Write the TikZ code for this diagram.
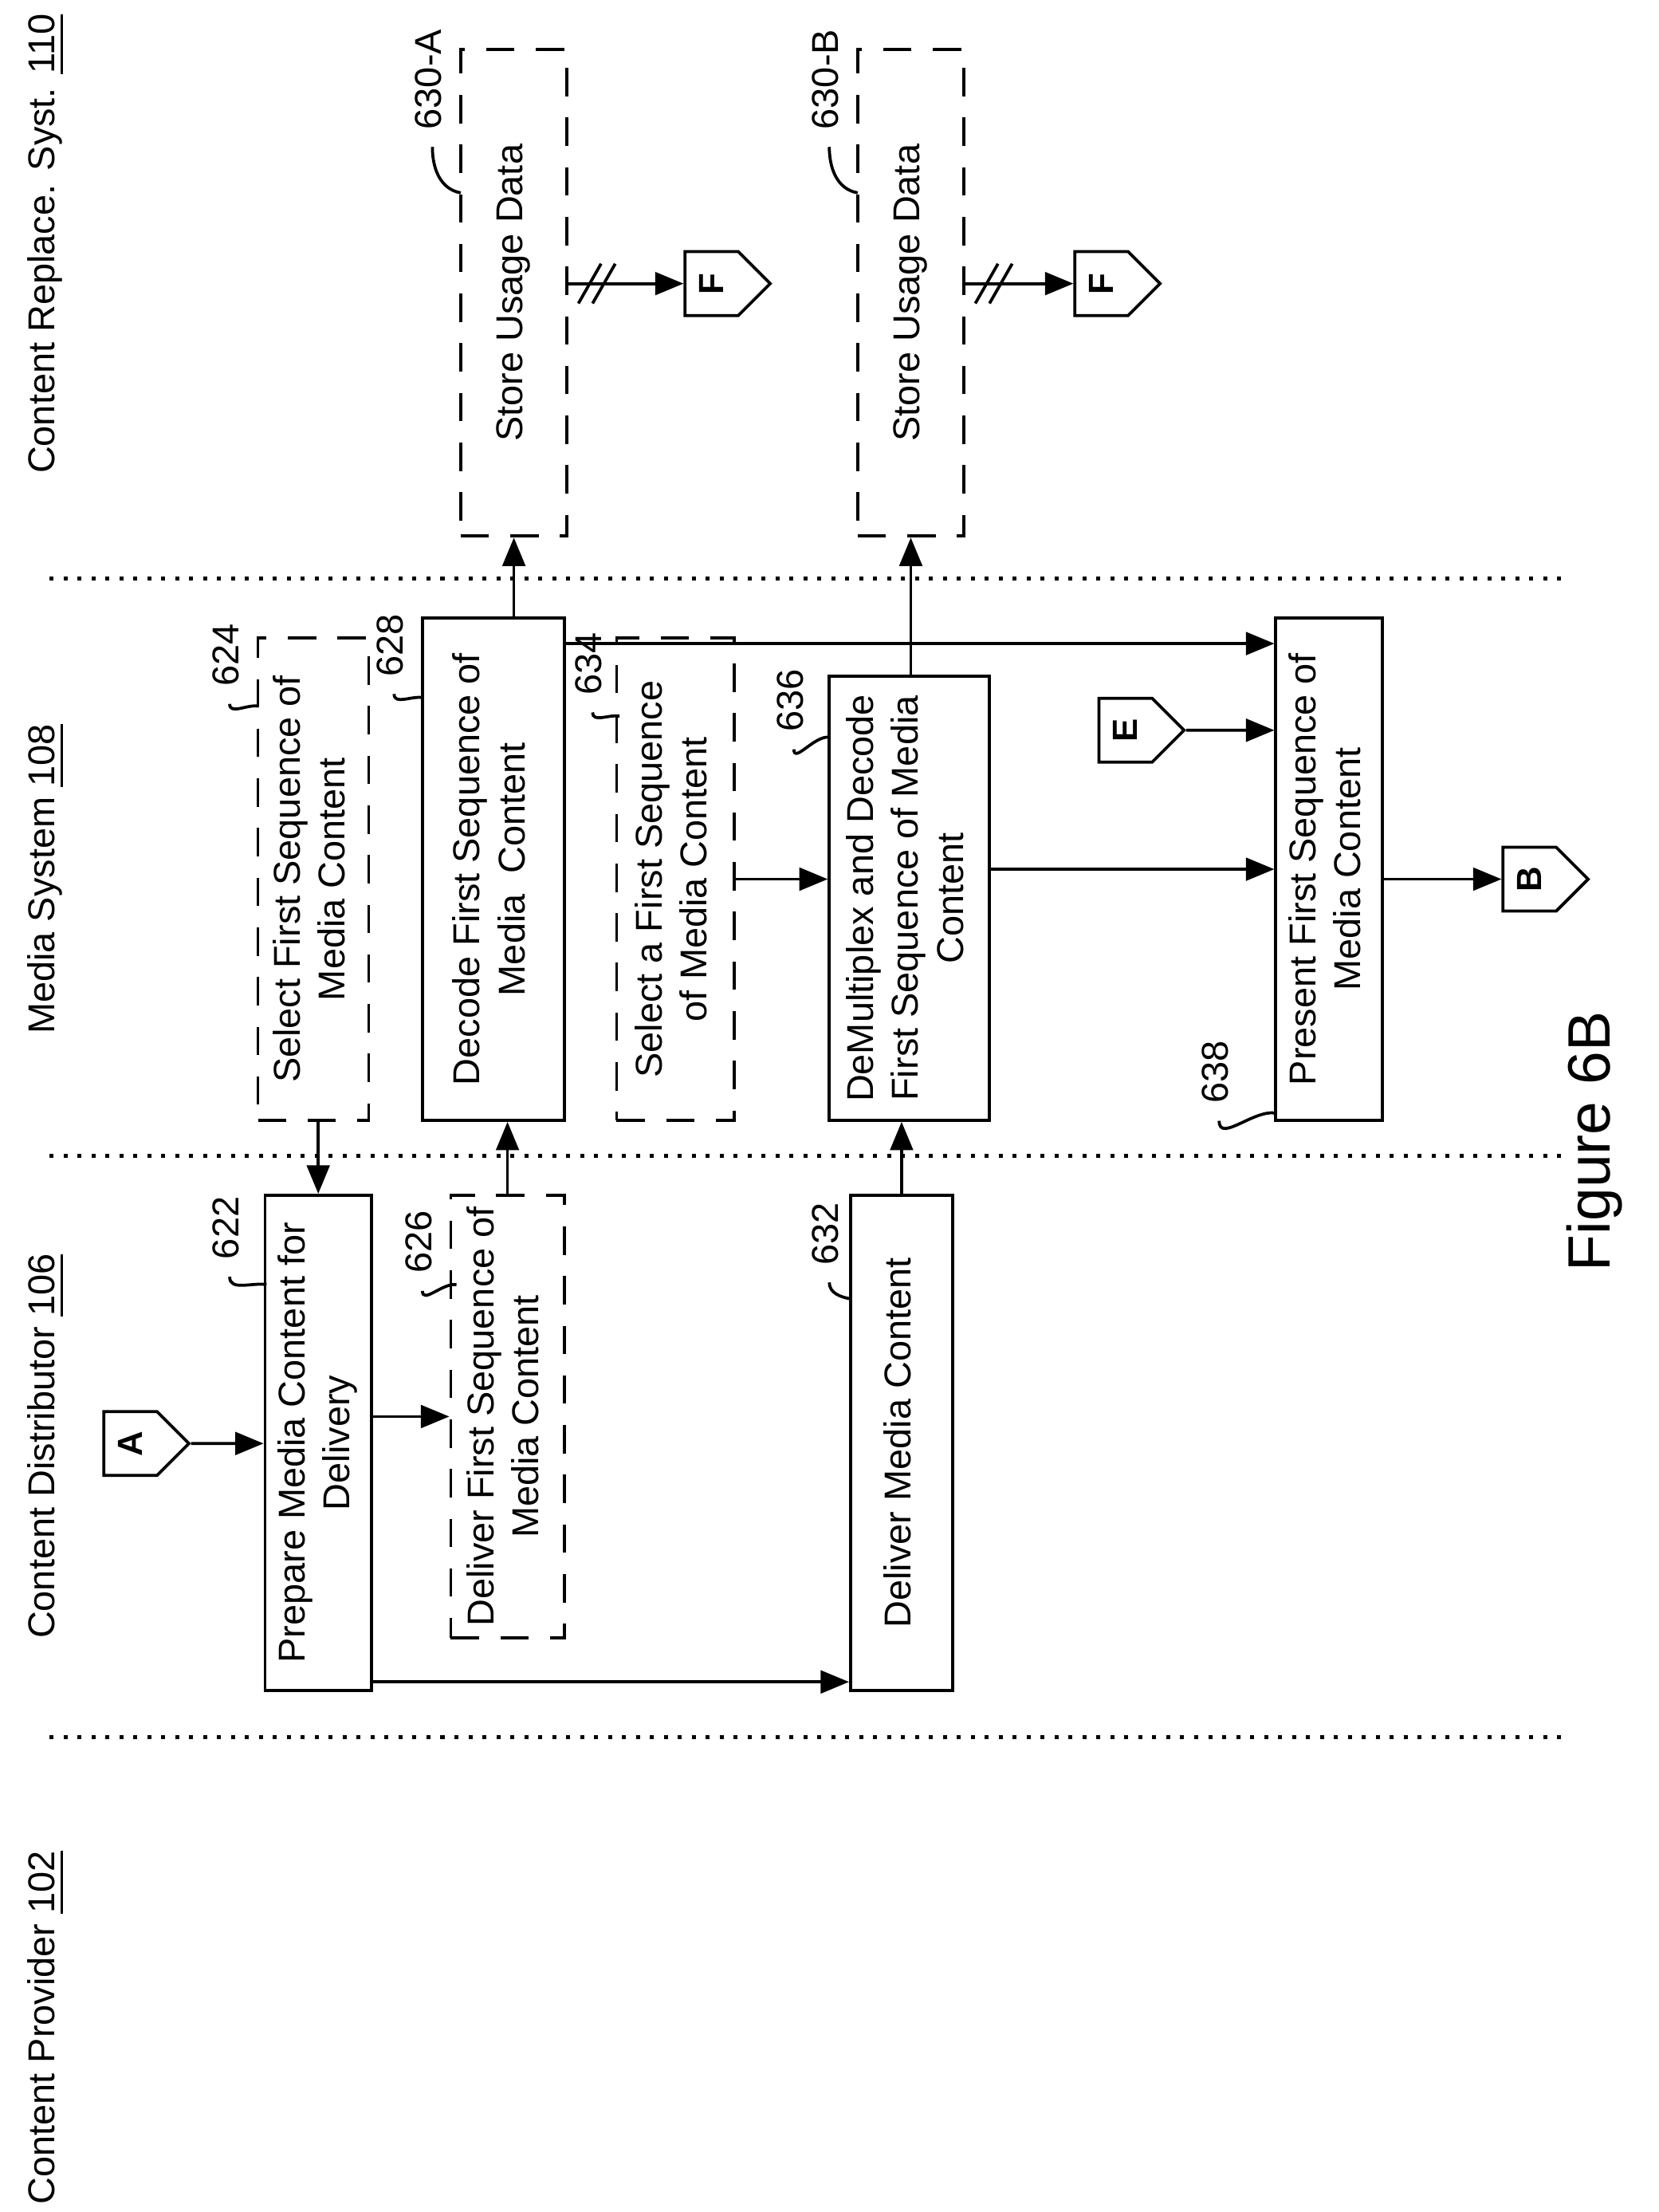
\documentclass[tikz,border=0pt]{standalone}
\usepackage{fontspec}
\setmainfont{Liberation Sans}
\usetikzlibrary{arrows.meta, positioning, shapes.symbols}

\newcommand{\rt}[1]{\rotatebox{90}{\begin{tabular}{@{}c@{}}#1\end{tabular}}}

\begin{document}
\begin{tikzpicture}[
  x=0.01cm, y=-0.01cm,
  font=\fontsize{7.5}{9}\selectfont,
  box/.style={rectangle, draw, semithick, inner sep=0pt},
  dbox/.style={box, dash pattern=on 2mm off 1.5mm},
  conn/.style={signal, signal to=east, draw, semithick, minimum width=0.6cm, minimum height=0.45cm, inner sep=1pt, font=\bfseries\fontsize{7}{8}\selectfont},
  arrow/.style={-{Triangle[length=2mm,width=1.6mm]}, semithick},
  lead/.style={semithick},
  lane/.style={dotted, thick}
]
\useasboundingbox (0,0) rectangle (1170,1560);

% lanes
\draw[lane] (35,408) -- (1105,408);
\draw[lane] (35,815) -- (1105,815);
\draw[lane] (35,1225) -- (1105,1225);
\node (cp) at (32,1430) {\rt{Content Provider \underline{102}}};
\node (cd) at (32,1020) {\rt{Content Distributor \underline{106}}};
\node (ms) at (32,620) {\rt{Media System \underline{108}}};
\node (cr) at (32,172) {\rt{Content Replace. Syst. \underline{110}}};

% steps
\node[box, minimum width=0.75cm, minimum height=3.49cm] (prep) at (224.5,1017.5) {\rt{Prepare Media Content for\\Delivery}};
\node[dbox, minimum width=0.80cm, minimum height=3.12cm] (dfs) at (358,999) {\rt{Deliver First Sequence of\\Media Content}};
\node[box, minimum width=0.72cm, minimum height=3.49cm] (dmc) at (636,1017.5) {\rt{Deliver Media Content}};
\node[dbox, minimum width=0.78cm, minimum height=3.40cm] (sfs) at (221,620) {\rt{Select First Sequence of\\Media Content}};
\node[box, minimum width=1.00cm, minimum height=3.54cm] (dec) at (348,613) {\rt{Decode First Sequence of\\Media\ \ Content}};
\node[dbox, minimum width=0.83cm, minimum height=3.40cm] (sas) at (476.5,620) {\rt{Select a First Sequence\\of Media Content}};
\node[box, minimum width=1.13cm, minimum height=3.13cm] (dmx) at (641.5,633.5) {\rt{DeMultiplex and Decode\\First Sequence of Media\\Content}};
\node[box, minimum width=0.75cm, minimum height=3.54cm] (pres) at (937.5,613) {\rt{Present First Sequence of\\Media Content}};
\node[dbox, minimum width=0.75cm, minimum height=3.43cm] (stA) at (362.5,206.5) {\rt{Store Usage Data}};
\node[dbox, minimum width=0.75cm, minimum height=3.43cm] (stB) at (642.5,206.5) {\rt{Store Usage Data}};

% off-page connectors
\node[conn] (A) at (92,1018) {\rotatebox{90}{A}};
\node[conn] (F1) at (502,200) {\rotatebox{90}{F}};
\node[conn] (F2) at (777,200) {\rotatebox{90}{F}};
\node[conn] (E) at (794,515) {\rotatebox{90}{E}};
\node[conn] (B) at (1079,620) {\rotatebox{90}{B}};

% reference numerals
\node (n622) at (162,866) {\rt{622}};
\node (n626) at (298,876) {\rt{626}};
\node (n632) at (585,870) {\rt{632}};
\node (n624) at (162,462) {\rt{624}};
\node (n628) at (278,455) {\rt{628}};
\node (n634) at (418,468) {\rt{634}};
\node (n636) at (560,494) {\rt{636}};
\node (n638) at (860,756) {\rt{638}};
\node (n630a) at (305,56) {\rt{630-A}};
\node (n630b) at (585,56) {\rt{630-B}};
\draw[lead] (n622.south) to[out=-90,in=170] (188,906);
\draw[lead] (n626.south) to[out=-90,in=170] (322,906);
\draw[lead] (n632.south) to[out=-90,in=170] (600,916);
\draw[lead] (n624.south) to[out=-90,in=170] (182,498);
\draw[lead] (n628.south) to[out=-90,in=170] (298,492);
\draw[lead] (n634.south) to[out=-90,in=170] (437,505);
\draw[lead] (n636.south) to[out=-90,in=170] (585,520);
\draw[lead] (n638.south) to[out=-90,in=170] (900,785);
\draw[lead] (n630a.south) to[out=-90,in=170] (325,136);
\draw[lead] (n630b.south) to[out=-90,in=170] (605,136);

% flow
\coordinate (d1) at ([yshift=-0.19cm]dec.north east);
\coordinate (p1) at ([yshift=0.07cm]prep.south east);
\draw[arrow] (A) -- (A -| prep.west);
\draw[arrow] (sfs.south -| prep) -- (prep.north);
\draw[arrow] (prep.east |- dfs) -- (dfs.west);
\draw[arrow] (p1) -- (p1 -| dmc.west);
\draw[arrow] (dfs.north) -- (dfs.north |- dec.south);
\draw[arrow] (dec.north -| stA) -- (stA.south);
\draw[arrow] (d1) -- (d1 -| pres.west);
\draw[arrow] (sas.east) -- (sas.east -| dmx.west);
\draw[arrow] (dmc.north) -- (dmc.north |- dmx.south);
\draw[arrow] (dmx.north -| stB) -- (stB.south);
\draw[arrow] (dmx.east |- pres) -- (pres.west);
\draw[arrow] (E) -- (E -| pres.west);
\draw[arrow] (pres.east |- B) -- (B.west);
\draw[arrow] (stA.east |- F1) -- (F1.west);
\draw[arrow] (stB.east |- F2) -- (F2.west);
\draw[semithick] (408,214) -- (424,186) (418,214) -- (434,186);
\draw[semithick] (688,214) -- (704,186) (698,214) -- (714,186);

\node (fig) at (1125,805) {\rotatebox{90}{\fontsize{12}{14}\selectfont Figure 6B}};
\end{tikzpicture}
\end{document}
